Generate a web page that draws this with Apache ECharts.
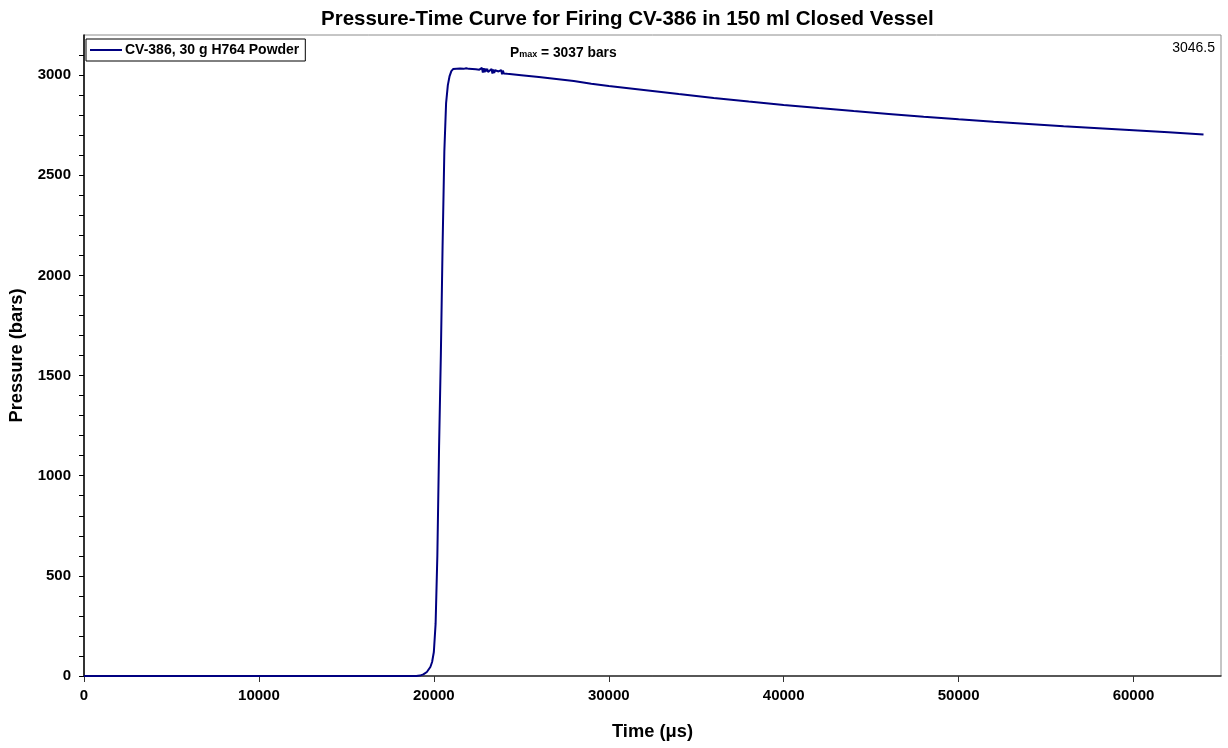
<!DOCTYPE html>
<html>
<head>
<meta charset="utf-8">
<script src="https://cdn.jsdelivr.net/npm/echarts@6/dist/echarts.min.js"></script>
<style>
html,body{margin:0;padding:0;background:#fff;}
#chart{width:1228px;height:748px;}
</style>
</head>
<body>
<div id="chart"></div>
<script>
// ---- data ----
const seriesName = 'CV-386, 30 g H764 Powder';
const timeUs = [
  0, 5000, 10000, 15000, 19000, 19200, 19400, 19600, 19800, 19900,
  20000, 20100, 20200, 20300, 20400, 20500, 20600, 20700, 20800, 20900,
  21000, 21100, 21200, 21300, 21400, 21500, 21600, 21700, 21750, 21800,
  21850, 21900, 22000, 22100, 22200, 22300, 22400, 22500, 22600, 22700,
  22750, 22800, 22850, 22900, 22950, 23000, 23050, 23100, 23200, 23300,
  23350, 23400, 23450, 23500, 23600, 23700, 23800, 23850, 23900, 23950,
  24000, 24100, 24200, 25000, 26000, 27000, 28000, 29000, 30000, 32000,
  34000, 36000, 38000, 40000, 42000, 44000, 46000, 48000, 50000, 52000,
  54000, 56000, 58000, 60000, 62000, 64000
];
const pressureBar = [
  0, 0, 0, 0, 0, 2, 8, 20, 45, 70,
  120, 260, 600, 1150, 1600, 2150, 2620, 2860, 2950, 2995,
  3020, 3030, 3036, 3032, 3037, 3033, 3035, 3031, 3040, 3024,
  3034, 3030, 3031, 3028, 3030, 3026, 3029, 3025, 3027, 3022,
  3036, 3012, 3034, 3014, 3032, 3018, 3031, 3015, 3020, 3030,
  3008, 3028, 3010, 3024, 3015, 3018, 3012, 3025, 3004, 3022,
  3008, 3012, 3006, 2999, 2990, 2980, 2970, 2957, 2945, 2925,
  2905, 2886, 2868, 2851, 2835, 2820, 2806, 2792, 2779, 2767,
  2756, 2745, 2735, 2725, 2714, 2703
];
const xTicks = [0, 10000, 20000, 30000, 40000, 50000, 60000];
const yTicks = [0, 500, 1000, 1500, 2000, 2500, 3000];
const titleText = 'Pressure-Time Curve for Firing CV-386 in 150 ml Closed Vessel';
const xName = 'Time (\u03bcs)';
const yName = 'Pressure (bars)';
const pmaxValue = 3037;
const cornerValue = '3046.5';

const FONT = 'Arial, "Liberation Sans", sans-serif';
const chart = echarts.init(document.getElementById('chart'), null, {renderer: 'canvas'});
const points = timeUs.map((t, i) => [t, pressureBar[i]]);

chart.setOption({
  animation: false,
  backgroundColor: '#fff',
  title: {
    text: titleText,
    left: 316, top: 4,
    textStyle: {fontFamily: FONT, fontWeight: 'bold', fontSize: 20.5, color: '#000'}
  },
  grid: {
    left: 84, right: 7, top: 35, bottom: 72,
    containLabel: false, outerBoundsMode: 'none',
    show: true, borderColor: '#8c8c8c', borderWidth: 1, backgroundColor: '#fff'
  },
  legend: {
    data: [{name: seriesName, icon: 'rect'}],
    left: 86, top: 39,
    orient: 'vertical',
    itemWidth: 32, itemHeight: 2, itemGap: 0,
    padding: [4, 6, 4, 4],
    borderColor: '#000', borderWidth: 1,
    backgroundColor: '#fff',
    textStyle: {fontFamily: FONT, fontWeight: 'bold', fontSize: 14, color: '#000', padding: [0,0,0,-2]}
  },
  xAxis: {
    type: 'value', min: 0, max: 65000, interval: 10000,
    name: xName, nameLocation: 'middle', nameGap: 47,
    nameTextStyle: {fontFamily: FONT, fontWeight: 'bold', fontSize: 18.3, color: '#000'},
    axisLine: {show: true, onZero: false, lineStyle: {color: '#333', width: 1.5}},
    axisTick: {show: true, inside: false, length: 6, lineStyle: {color: '#333'}},
    axisLabel: {
      fontFamily: FONT, fontWeight: 'bold', fontSize: 15, color: '#000', margin: 12,
      showMaxLabel: false,
      formatter: v => xTicks.includes(v) ? String(v) : ''
    },
    splitLine: {show: false}
  },
  yAxis: {
    type: 'value', min: 0, max: 3200, interval: 100,
    name: yName, nameLocation: 'middle', nameGap: 58, nameRotate: 90,
    nameTextStyle: {fontFamily: FONT, fontWeight: 'bold', fontSize: 18.3, color: '#000'},
    axisLine: {show: true, onZero: false, lineStyle: {color: '#000', width: 1.5}},
    axisTick: {show: true, inside: false, length: 5, lineStyle: {color: '#000'}},
    axisLabel: {
      fontFamily: FONT, fontWeight: 'bold', fontSize: 15, color: '#000', margin: 13,
      showMaxLabel: false,
      formatter: v => yTicks.includes(v) ? String(v) : ''
    },
    splitLine: {show: false}
  },
  graphic: [
    {
      type: 'text', left: 510, top: 46,
      style: {
        text: '{p|P}{s|max}{p| = ' + pmaxValue + ' bars}',
        rich: {
          p: {fontFamily: FONT, fontWeight: 'bold', fontSize: 13.8, fill: '#000', verticalAlign: 'bottom', height: 17},
          s: {fontFamily: FONT, fontWeight: 'bold', fontSize: 9, fill: '#000', verticalAlign: 'bottom', height: 13}
        }
      }
    },
    {
      type: 'text', right: 13, top: 41,
      style: {text: cornerValue, fontFamily: FONT, fontSize: 14, fill: '#000'}
    }
  ],
  series: [{
    name: seriesName,
    type: 'line',
    data: points,
    showSymbol: false,
    symbol: 'none',
    lineStyle: {color: '#000080', width: 2},
    itemStyle: {color: '#000080'}
  }]
});
</script>
</body>
</html>
